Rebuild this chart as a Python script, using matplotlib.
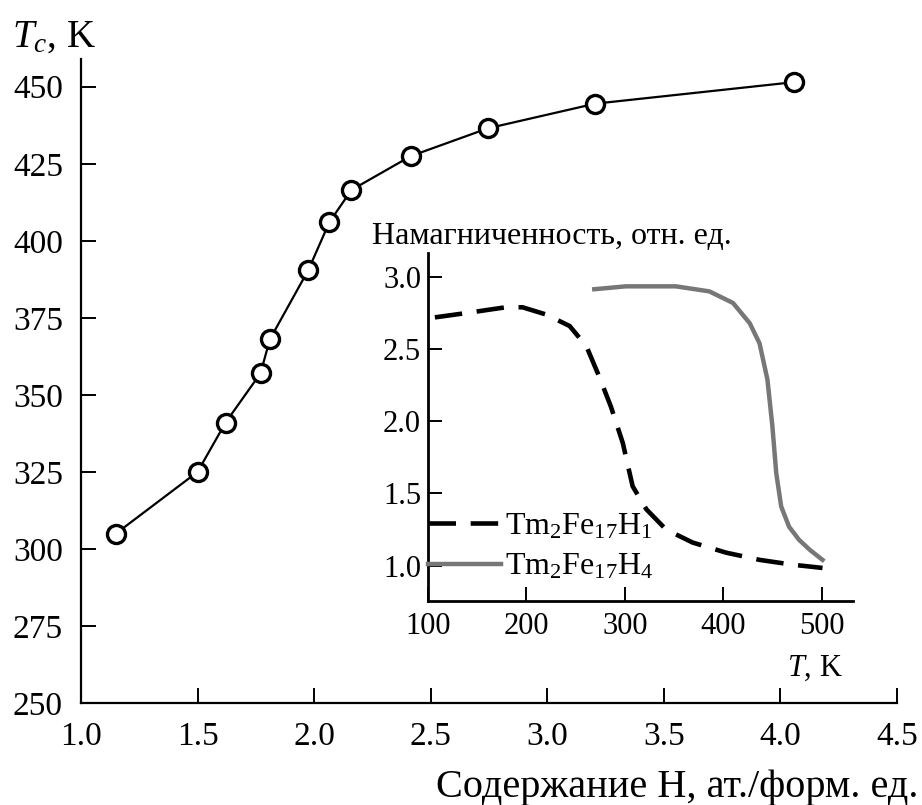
import matplotlib
matplotlib.use("Agg")
from matplotlib import pyplot as plt

plt.rcParams['font.family'] = ['Liberation Serif', 'DejaVu Serif']
plt.rcParams['mathtext.fontset'] = 'custom'
plt.rcParams['mathtext.rm'] = 'Liberation Serif'
plt.rcParams['mathtext.it'] = 'Liberation Serif:italic'

# Curie temperature vs hydrogen content
h_content = [1.15, 1.50, 1.62, 1.77, 1.81, 1.975, 2.065, 2.16, 2.415, 2.745, 3.205, 4.06]
t_curie = [305, 325, 341, 357, 368, 390.5, 406, 416.5, 427.5, 436.5, 444.5, 451.5]

# magnetization curves (inset)
t_h1 = [107, 139, 179, 196, 220, 244, 261, 274, 286, 298, 308, 322, 342, 369, 403, 437, 470, 501]
m_h1 = [2.72, 2.75, 2.79, 2.79, 2.74, 2.66, 2.52, 2.31, 2.10, 1.85, 1.55, 1.39, 1.25, 1.16, 1.09,
        1.04, 1.007, 0.984]
t_h4 = [269, 301, 352, 386, 410, 427, 437, 445, 450, 454, 459, 467, 477, 488, 501]
m_h4 = [2.915, 2.935, 2.935, 2.90, 2.82, 2.68, 2.54, 2.29, 1.97, 1.64, 1.41, 1.27, 1.18, 1.11, 1.04]

W, H = 922, 805
fig = plt.figure(figsize=(W / 100, H / 100), dpi=100)

ax = fig.add_axes([81 / W, 1 - 703 / H, (897 - 81) / W, (703 - 59) / H])
ax.plot(h_content, t_curie, color='black', lw=1.6, marker='o', ms=13,
        mfc='white', mec='black', mew=2.4, zorder=3)
ax.set_xlim(1.0, 4.5)
ax.set_ylim(250, 459)
ax.set_xticks([1.0, 1.5, 2.0, 2.5, 3.0, 3.5, 4.0, 4.5])
ax.set_yticks(range(250, 451, 25))
ax.xaxis.set_major_formatter(matplotlib.ticker.FormatStrFormatter('%.1f'))
for s in ['top', 'right']:
    ax.spines[s].set_visible(False)
for s in ['left', 'bottom']:
    ax.spines[s].set_linewidth(1.6)
ax.tick_params(direction='in', length=11, width=1.4, labelsize=24, pad=13)
ax.tick_params(axis='y', pad=13)
fig.text(12 / W, 1 - 47 / H, '$T_c$, K', fontsize=28)
fig.text(918 / W, 1 - 797 / H, 'Содержание H, ат./форм. ед.', fontsize=29, ha='right')

# inset
ins = fig.add_axes([428 / W, 1 - 601 / H, (853 - 428) / W, (601 - 253) / H])
ins.plot(t_h1, m_h1, color='black', lw=3.3, dashes=(6, 3.2), label='Tm$_2$Fe$_{17}$H$_1$')
ins.plot(t_h4, m_h4, color='#777777', lw=3.2, label='Tm$_2$Fe$_{17}$H$_4$')
ins.set_xlim(100, 532)
ins.set_ylim(0.755, 3.166)
ins.set_xticks([100, 200, 300, 400, 500])
ins.set_yticks([1.0, 1.5, 2.0, 2.5, 3.0])
ins.yaxis.set_major_formatter(matplotlib.ticker.FormatStrFormatter('%.1f'))
for s in ['top', 'right']:
    ins.spines[s].set_visible(False)
for s in ['left', 'bottom']:
    ins.spines[s].set_linewidth(2.0)
ins.tick_params(direction='in', length=10, width=1.4, labelsize=22, pad=8)
ins.tick_params(axis='y', pad=5)
ins.legend(loc='lower left', bbox_to_anchor=(0.0, 0.055), frameon=False, fontsize=23,
           borderpad=0, borderaxespad=0, handlelength=2.3, handletextpad=0.1,
           labelspacing=0.35)
fig.text(372 / W, 1 - 244 / H, 'Намагниченность, отн. ед.', fontsize=23)
fig.text(843 / W, 1 - 676 / H, '$T$, K', fontsize=22, ha='right')

fig.savefig('out.png', dpi=100)
